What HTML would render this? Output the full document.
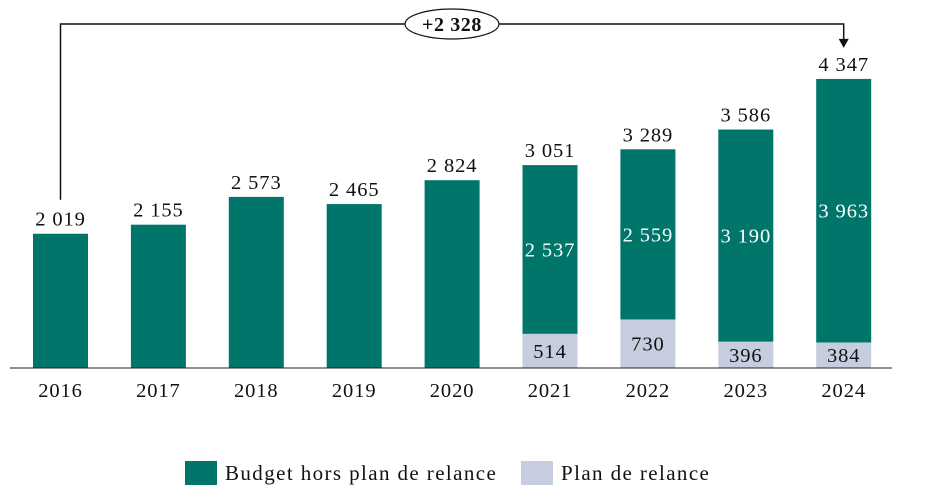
<!DOCTYPE html>
<html><head><meta charset="utf-8"><style>
html,body{margin:0;padding:0;background:#fff;}
svg{display:block;font-family:"Liberation Serif",serif;}
</style></head><body>
<svg id="chart" width="926" height="498"></svg>
<script>
const years=["2016","2017","2018","2019","2020","2021","2022","2023","2024"];
const budgetHors=[2019,2155,2573,2465,2824,2537,2559,3190,3963];
const plan=[0,0,0,0,0,514,730,396,384];
const totals=[2019,2155,2573,2465,2824,3051,3289,3586,4347];
const deltaLabel="+2 328";
const NS="http://www.w3.org/2000/svg";
const svg=document.getElementById('chart');
const base=368, scale=0.0665, x0=60.5, step=97.9, bw=55;
const TEAL="#00756A", LIGHT="#C5CDDE";
const FS=20.5, LS=0.9;
function y(v){return base-v*scale;}
function xc(i){return x0+i*step;}
function fmt(v){return String(v).replace(/\B(?=(\d{3})+(?!\d))/g," ");}
function el(tag,attrs,txt){const e=document.createElementNS(NS,tag);for(const k in attrs)e.setAttribute(k,attrs[k]);if(txt!==undefined)e.textContent=txt;svg.appendChild(e);return e;}
years.forEach((yr,i)=>{
  const cx=xc(i);
  if(plan[i]>0){
    const r=el('rect',{x:cx-bw/2,y:y(plan[i]),width:bw,height:plan[i]*scale,fill:LIGHT});
    
    
    const t=el('text',{x:cx,y:(y(plan[i])+base)/2+7,'text-anchor':'middle','font-size':FS,'letter-spacing':LS,fill:'#111'},fmt(plan[i]));
    
    
  }
  const top=plan[i]+budgetHors[i];
  const r2=el('rect',{x:cx-bw/2,y:y(top),width:bw,height:budgetHors[i]*scale,fill:TEAL});
  
  
  if(plan[i]>0){
    const t=el('text',{x:cx,y:(y(top)+y(plan[i]))/2+7,'text-anchor':'middle','font-size':FS,'letter-spacing':LS,fill:'#fff'},fmt(budgetHors[i]));
    
    
  }
  const tt=el('text',{x:cx,y:y(totals[i])-8,'text-anchor':'middle','font-size':FS,'letter-spacing':LS,fill:'#111'},fmt(totals[i]));
  
  
  const xl=el('text',{x:cx,y:397,'text-anchor':'middle','font-size':FS,'letter-spacing':LS,fill:'#111'},yr);
  
  
});
const ax=el('line',{x1:10,x2:892,y1:base,y2:base,stroke:'#222','stroke-width':1});


const n=years.length-1;
const ann=el('path',{d:`M${xc(0)} ${y(totals[0])-34} V24 H${xc(n)} V${y(totals[n])-34}`,fill:'none',stroke:'#111','stroke-width':1.5});


const ar=el('path',{d:`M${xc(n)-5} ${y(totals[n])-40} L${xc(n)+5} ${y(totals[n])-40} L${xc(n)} ${y(totals[n])-31} Z`,fill:'#111'});


const ell=el('ellipse',{cx:452,cy:24,rx:47,ry:15,fill:'#fff',stroke:'#111','stroke-width':1.2});


const dt=el('text',{x:452,y:31,'text-anchor':'middle','font-size':20,'letter-spacing':0.6,'font-weight':'bold',fill:'#111'},deltaLabel);


const l1=el('rect',{x:185,y:461,width:32,height:24,fill:TEAL});


const lt1=el('text',{x:225,y:480,'font-size':21,'letter-spacing':1.4,fill:'#111'},"Budget hors plan de relance");


const l2=el('rect',{x:521,y:461,width:32,height:24,fill:LIGHT});


const lt2=el('text',{x:561,y:480,'font-size':21,'letter-spacing':1.4,fill:'#111'},"Plan de relance");


</script>
</body></html>
